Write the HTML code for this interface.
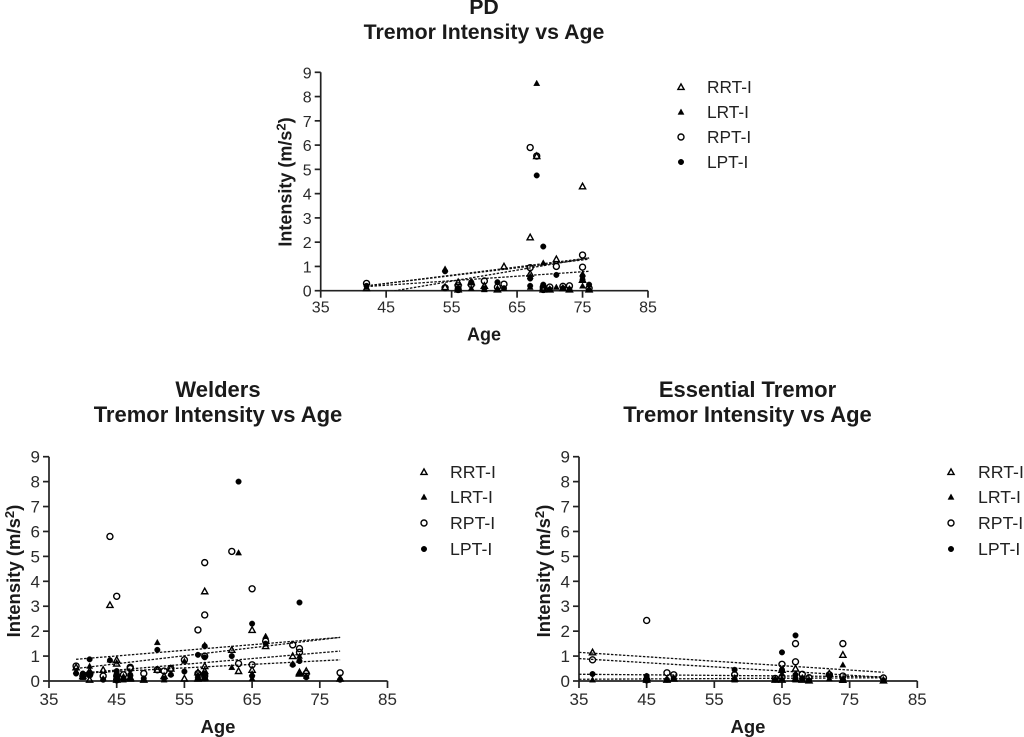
<!DOCTYPE html>
<html lang="en">
<head>
<meta charset="utf-8">
<title>Tremor Intensity vs Age</title>
<style>
html,body{margin:0;padding:0;background:#fff;width:1024px;height:737px;overflow:hidden}
svg{display:block;font-family:"Liberation Sans",Arial,sans-serif}
.t{font-weight:bold;font-size:22px;text-anchor:middle;fill:#1a1a1a}
.a{font-weight:bold;font-size:18.5px;text-anchor:middle;fill:#1a1a1a}
.l{font-size:17.7px;fill:#222}
.k{font-size:17px;fill:#2a2a2a}
#pd .t{font-size:21.3px}
#pd .a{font-size:18px}
#pd .k{font-size:16px}
#pd .l{font-size:17.3px}
</style>
</head>
<body>
<svg id="fig" width="1024" height="737" viewBox="0 0 1024 737" xmlns="http://www.w3.org/2000/svg">
  <g id="pd">
    <text class="t" x="484" y="14">PD</text>
    <text class="t" x="484" y="39">Tremor Intensity vs Age</text>
    <text class="a" x="484" y="340.5">Age</text>
    <text class="a" transform="translate(291.5 182) rotate(-90)">Intensity (m/s<tspan dy="-6" font-size="13">2</tspan><tspan dy="6">)</tspan></text>
    <text class="l" x="707" y="93">RRT-I</text>
    <text class="l" x="707" y="118">LRT-I</text>
    <text class="l" x="707" y="143">RPT-I</text>
    <text class="l" x="707" y="168">LPT-I</text>
  </g>
  <g id="welders">
    <text class="t" x="218" y="397">Welders</text>
    <text class="t" x="218" y="422">Tremor Intensity vs Age</text>
    <text class="a" x="218" y="733">Age</text>
    <text class="a" transform="translate(20 571) rotate(-90)">Intensity (m/s<tspan dy="-6" font-size="13">2</tspan><tspan dy="6">)</tspan></text>
    <text class="l" x="450" y="478">RRT-I</text>
    <text class="l" x="450" y="503">LRT-I</text>
    <text class="l" x="450" y="529">RPT-I</text>
    <text class="l" x="450" y="555">LPT-I</text>
  </g>
  <g id="et">
    <text class="t" x="747.5" y="397">Essential Tremor</text>
    <text class="t" x="747.5" y="422">Tremor Intensity vs Age</text>
    <text class="a" x="748" y="733">Age</text>
    <text class="a" transform="translate(550 571) rotate(-90)">Intensity (m/s<tspan dy="-6" font-size="13">2</tspan><tspan dy="6">)</tspan></text>
    <text class="l" x="978" y="478">RRT-I</text>
    <text class="l" x="978" y="503">LRT-I</text>
    <text class="l" x="978" y="529">RPT-I</text>
    <text class="l" x="978" y="555">LPT-I</text>
  </g>
</svg>
<script>
const xTicks = [35, 45, 55, 65, 75, 85];
const yTicks = [0, 1, 2, 3, 4, 5, 6, 7, 8, 9];
const seriesNames = ['rrt', 'lrt', 'rpt', 'lpt'];

const pdAges = [42,54,56,56,58,60,62,63,67,67,68,69,69,70,71,72,73,75,75,76];
const pdRRT = [.1,.15,.35,.05,.35,.2,.05,1,2.2,.7,5.55,.1,.05,.05,1.3,.1,.05,4.3,.45,.05];
const pdLRT = [.15,.9,.1,.05,.1,.05,.1,.1,.6,.15,8.55,1.15,.2,.05,.15,.1,.05,.2,.7,.1];
const pdRPT = [.3,.12,.2,.05,.25,.4,.15,.27,5.9,.95,5.55,.05,.15,.15,1,.18,.2,1.47,.97,.1];
const pdLPT = [.2,.8,.1,.05,.35,.1,.35,.1,.5,.2,4.75,1.82,.25,.05,.65,.1,.05,.6,.45,.25];
const pdFitAges = [42, 76];
const pdFitRRT = [.2, 1.35];
const pdFitLRT = [-.2, 1.35];
const pdFitRPT = [.2, 1.3];
const pdFitLPT = [.17, .8];

const wAges = [39,40,41,41,43,44,45,45,45,46,47,47,49,51,52,53,55,57,57,58,58,58,58,62,63,65,65,67,71,72,72,73,78];
const wRRT = [.55,.2,.05,.4,.45,3.05,.85,.7,.05,.15,.15,.1,.05,.45,.2,.5,.1,.35,.1,3.6,.6,.4,.15,1.25,.4,2.05,.45,1.4,1,.35,.3,.4,.1];
const wLRT = [.4,.15,.6,.3,.1,.85,.35,.1,.05,.05,.1,.3,.1,1.55,.05,.3,.8,.25,.15,1.45,.3,.2,.1,.55,5.15,.1,.3,1.8,.7,1,.3,.2,.1];
const wRPT = [.6,.2,.3,.25,.2,5.8,3.4,.2,.05,.25,.55,.5,.3,.45,.4,.5,.85,2.05,.3,4.75,2.65,1,.2,5.2,.7,3.7,.65,1.6,1.45,1.3,1.15,.3,.33];
const wLPT = [.3,.3,.87,.25,.05,.83,.4,.15,.3,.1,.25,.2,.1,1.25,.1,.25,.38,1.05,.1,1.4,.3,.95,.1,1,8,2.3,.2,1.5,.65,3.15,.8,.15,.05];
const wFitAges = [39, 78];
const wFitRRT = [.5, 1.75];
const wFitLRT = [.3, .85];
const wFitRPT = [.3, 1.2];
const wFitLPT = [.87, 1.75];

const etAges = [37,45,45,48,49,58,64,65,65,67,67,68,69,72,74,74,80];
const etRRT = [1.15,.15,.05,.05,.1,.1,.05,.05,.45,.5,.1,.05,.02,.3,1.05,.05,.02];
const etLRT = [.05,.05,.05,.05,.1,.05,.05,.3,.1,.2,.05,.15,.05,.1,.65,.03,.02];
const etRPT = [.85,2.43,.05,.33,.25,.25,.1,.67,.15,1.5,.77,.27,.13,.25,1.5,.2,.12];
const etLPT = [.28,.2,.1,.05,.1,.45,.05,1.15,.45,1.83,.25,.1,.02,.2,.05,.05,.02];
const etFitAges = [35, 80];
const etFitRRT = [1.15, .35];
const etFitLRT = [.07, .13];
const etFitRPT = [.9, .15];
const etFitLPT = [.27, .17];

const NS = 'http://www.w3.org/2000/svg';

function make(tag, attrs, parent) {
  const el = document.createElementNS(NS, tag);
  for (const k in attrs) el.setAttribute(k, attrs[k]);
  parent.appendChild(el);
  return el;
}

function drawMarker(parent, kind, cx, cy) {
  const open = kind === 'rrt' || kind === 'rpt';
  const style = { fill: open ? 'none' : '#000', stroke: '#000', 'stroke-width': open ? 1.4 : 0.4 };
  if (kind === 'rrt' || kind === 'lrt') {
    const r = 3.1;
    return make('polygon', Object.assign({
      points: (cx - r) + ',' + (cy + r * 0.8) + ' ' + (cx + r) + ',' + (cy + r * 0.8) + ' ' + cx + ',' + (cy - r)
    }, style), parent);
  }
  return make('circle', Object.assign({ cx: cx, cy: cy, r: open ? 3 : 2.8 }, style), parent);
}

function drawChart(cfg) {
  const root = document.getElementById(cfg.id);
  const X = v => cfg.x0 + (v - 35) * (cfg.x1 - cfg.x0) / 50;
  const Y = v => cfg.y0 + v * (cfg.y1 - cfg.y0) / 9;

  const axes = make('g', { stroke: '#222', 'stroke-width': 1.7, fill: 'none' }, root);
  
  
  make('line', { x1: X(35), x2: X(85), y1: Y(0), y2: Y(0) }, axes);
  make('line', { x1: X(35), x2: X(35), y1: Y(0), y2: Y(9) }, axes);

  xTicks.forEach(t => {
    make('line', { x1: X(t), x2: X(t), y1: Y(0), y2: Y(0) + 7 }, axes);
    const label = make('text', { class: 'k', x: X(t), y: Y(0) + cfg.xLabelGap, 'text-anchor': 'middle' }, root);
    
    
    label.textContent = t;
  });
  yTicks.forEach(t => {
    make('line', { x1: X(35) - 6, x2: X(35), y1: Y(t), y2: Y(t) }, axes);
    const label = make('text', { class: 'k', x: X(35) - 9, y: Y(t) + 6, 'text-anchor': 'end' }, root);
    
    
    label.textContent = t;
  });

  const clip = make('clipPath', { id: cfg.id + '-clip' }, root);
  make('rect', { x: X(35), y: Y(9) - 5, width: X(85) - X(35), height: Y(0) - Y(9) + 5 }, clip);

  cfg.fits.forEach((fit, i) => {
    const line = make('line', {
      x1: X(cfg.fitAges[0]), y1: Y(fit[0]), x2: X(cfg.fitAges[1]), y2: Y(fit[1]),
      stroke: '#111', 'stroke-width': 1.3, 'stroke-dasharray': '2.5 1.5', 'clip-path': 'url(#' + cfg.id + '-clip)'
    }, root);
    
    
  });

  cfg.series.forEach((values, i) => {
    const group = make('g', {}, root);
    
    
    values.forEach((v, j) => {
      const mark = drawMarker(group, seriesNames[i], X(cfg.ages[j]), Y(v));
      
      
    });
    const key = drawMarker(root, seriesNames[i], cfg.legendX, cfg.legendY[i]);
    
    
  });
}

drawChart({
  id: 'pd', x0: 320.7, x1: 648, y0: 290.7, y1: 72.3, xLabelGap: 22,
  ages: pdAges, series: [pdRRT, pdLRT, pdRPT, pdLPT],
  fitAges: pdFitAges, fits: [pdFitRRT, pdFitLRT, pdFitRPT, pdFitLPT],
  legendX: 681, legendY: [87, 112, 137, 162]
});
drawChart({
  id: 'welders', x0: 49, x1: 387.5, y0: 681, y1: 456.7, xLabelGap: 24,
  ages: wAges, series: [wRRT, wLRT, wRPT, wLPT],
  fitAges: wFitAges, fits: [wFitRRT, wFitLRT, wFitRPT, wFitLPT],
  legendX: 424, legendY: [472, 497, 523, 549]
});
drawChart({
  id: 'et', x0: 579, x1: 917.3, y0: 681, y1: 456.7, xLabelGap: 24,
  ages: etAges, series: [etRRT, etLRT, etRPT, etLPT],
  fitAges: etFitAges, fits: [etFitRRT, etFitLRT, etFitRPT, etFitLPT],
  legendX: 951, legendY: [472, 497, 523, 549]
});
</script>
</body>
</html>
